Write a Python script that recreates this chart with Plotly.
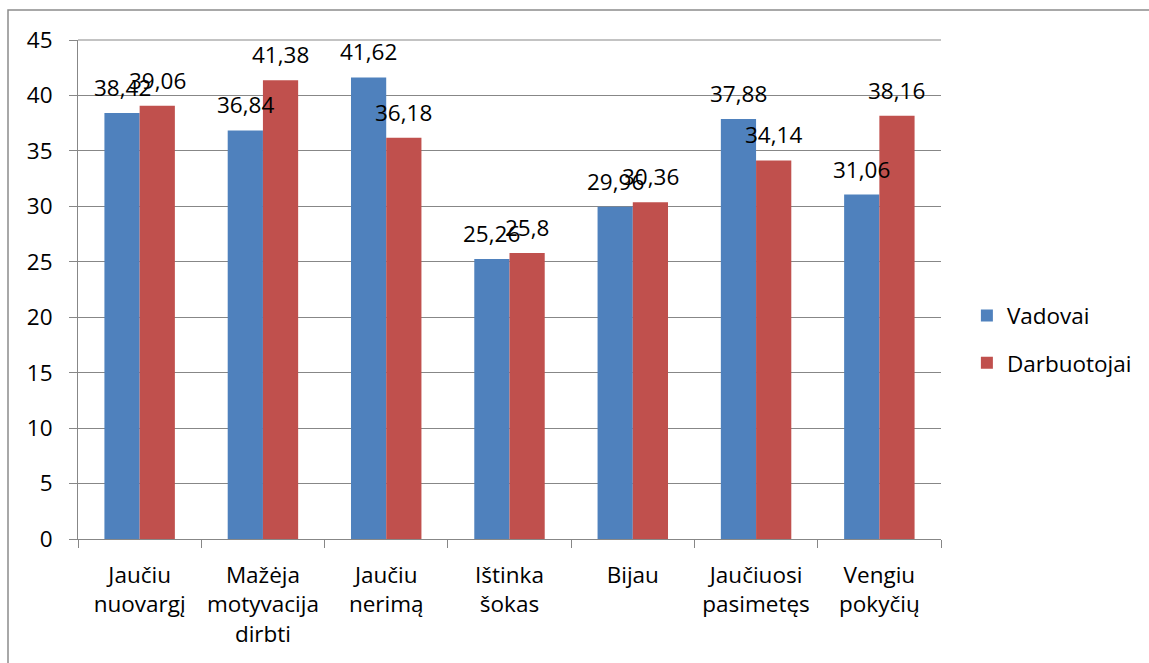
import plotly.graph_objects as go

# Category labels (line breaks as on the axis)
categories = [
    "Jaučiu<br>nuovargį",
    "Mažėja<br>motyvacija<br>dirbti",
    "Jaučiu<br>nerimą",
    "Ištinka<br>šokas",
    "Bijau",
    "Jaučiuosi<br>pasimetęs",
    "Vengiu<br>pokyčių",
]
vadovai = [38.42, 36.84, 41.62, 25.26, 29.96, 37.88, 31.06]
darbuotojai = [39.06, 41.38, 36.18, 25.8, 30.36, 34.14, 38.16]
series_names = ["Vadovai", "Darbuotojai"]
y_ticks = [0, 5, 10, 15, 20, 25, 30, 35, 40, 45]

BLUE = "#4F81BD"
RED = "#C0504D"
GRID = "#878787"
FONT = "Open Sans"
FS = 22.5

fig = go.Figure()
fig.add_trace(go.Bar(x=categories, y=vadovai, name=series_names[0],
                     marker=dict(color=BLUE, line=dict(width=0)),
                     legendgroup="a"))
fig.add_trace(go.Bar(x=categories, y=darbuotojai, name=series_names[1],
                     marker=dict(color=RED, line=dict(width=0)),
                     legendgroup="b"))


def fmt(v):
    s = f"{v:.2f}".rstrip("0").rstrip(".")
    return s.replace(".", ",")


# value labels above each bar, centred on the bar
plot_w = 1149 - 78 - 208
half = plot_w / len(categories) * (1 - 1.5 / 3.5) / 4
annotations = []
for cat, v, d in zip(categories, vadovai, darbuotojai):
    for val, sh in ((v, -half), (d, half)):
        annotations.append(dict(
            x=cat, y=val, xref="x", yref="y", text=fmt(val),
            showarrow=False, xshift=sh, yshift=8, yanchor="bottom",
            font=dict(family=FONT, size=FS, color="black"),
        ))

fig.update_layout(
    width=1149, height=663,
    margin=dict(l=78, r=208, t=40, b=124),
    paper_bgcolor="white", plot_bgcolor="white",
    barmode="group", bargap=1.5 / 3.5, bargroupgap=0,
    font=dict(family=FONT, size=FS, color="black"),
    showlegend=True,
    legend=dict(x=1.03, xanchor="left", y=0.40, yanchor="middle",
                traceorder="grouped", tracegroupgap=15,
                font=dict(family=FONT, size=FS, color="black"),
                itemwidth=30, bgcolor="rgba(0,0,0,0)"),
    annotations=annotations,
    shapes=[dict(type="rect", xref="paper", yref="paper",
                 x0=-70 / plot_w, x1=1.4, y0=-0.5, y1=(539 - 10) / 499,
                 line=dict(color="#8c8c8c", width=1.5),
                 fillcolor="rgba(0,0,0,0)", layer="below")],
)

fig.update_xaxes(
    type="category", showgrid=False, showline=True, linecolor=GRID,
    linewidth=1, ticks="outside", tickson="boundaries", ticklen=8,
    tickcolor=GRID, tickfont=dict(family=FONT, size=FS, color="black"),
    tickangle=0, ticklabelstandoff=16,
)
fig.update_yaxes(
    range=[0, 45], tickvals=y_ticks, showgrid=True, gridcolor=GRID,
    gridwidth=1, showline=True, linecolor=GRID, linewidth=1,
    ticks="outside", ticklen=8, tickcolor=GRID, zeroline=False,
    tickfont=dict(family=FONT, size=FS, color="black"),
    ticklabelstandoff=12,
)
fig.add_shape(type="line", xref="paper", yref="paper", x0=0, x1=1, y0=1, y1=1,
              line=dict(color=GRID, width=1))

fig.write_html("out.html")
